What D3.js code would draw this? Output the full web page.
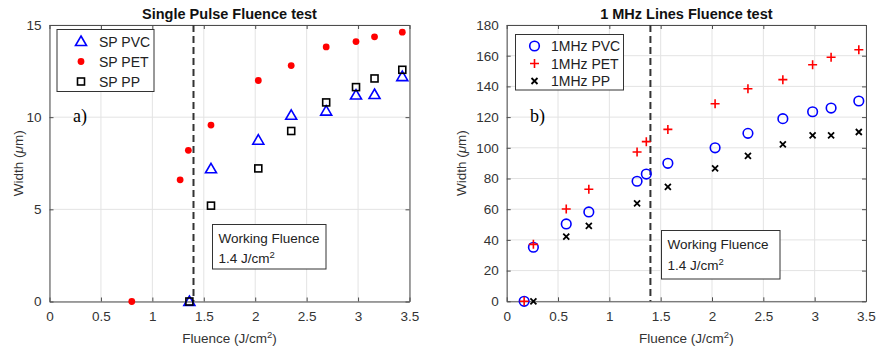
<!DOCTYPE html>
<html>
<head>
<meta charset="utf-8">
<script src="https://cdn.jsdelivr.net/npm/d3@7"></script>
<style>
  body { margin: 0; background: #fff; }
  svg text { font-family: "Liberation Sans", Arial, sans-serif; }
</style>
</head>
<body>
<div id="chart"></div>
<script>
// Single pulse (a)
const spFluence = [1.36, 1.57, 2.03, 2.35, 2.69, 2.98, 3.16, 3.43];
const spPVC = [0, 7.2, 8.75, 10.1, 10.33, 11.2, 11.23, 12.2];
const spPP = [0, 5.2, 7.22, 9.25, 10.8, 11.63, 12.1, 12.57];
const spPETFluence = [0.8, 1.27, 1.35, 1.57, 2.03, 2.35, 2.69, 2.98, 3.16, 3.43];
const spPET = [0, 6.6, 8.2, 9.57, 11.99, 12.8, 13.81, 14.1, 14.36, 14.61];

// 1 MHz lines (b)
const mhzFluence = [0.17, 0.26, 0.58, 0.8, 1.27, 1.36, 1.57, 2.03, 2.35, 2.69, 2.98, 3.16, 3.43];
const mhzPVC = [0, 35.2, 50.4, 58.2, 78.2, 82.9, 89.9, 100, 109.4, 119, 123.5, 125.9, 130.5];
const mhzPET = [0, 37.1, 60.1, 73, 97.3, 104, 112, 128.7, 138.5, 144.4, 154.1, 159, 163.9];
const mhzPPFluence = [0.26, 0.58, 0.8, 1.27, 1.57, 2.03, 2.35, 2.69, 2.98, 3.16, 3.43];
const mhzPP = [0, 42.1, 49.1, 63.8, 74.5, 86.6, 94.7, 102.3, 108.1, 108.1, 110.3];

const xTicks = [0, 0.5, 1, 1.5, 2, 2.5, 3, 3.5];
const spYTicks = [0, 5, 10, 15];
const mhzYTicks = [0, 20, 40, 60, 80, 100, 120, 140, 160, 180];
const workingFluence = 1.4;

const width = 876;
const height = 351;
const axisColor = '#4d4d4d';
const gridColor = '#e3e3e3';
const labelSize = '13.5px';

const svg = d3
  .select('#chart')
  .append('svg')
  .attr('width', width)
  .attr('height', height)
  .attr('xmlns', 'http://www.w3.org/2000/svg');

/* Markers
-----------------------------------------------------------------------------*/
function drawMarker(g, type, x, y) {
  if (type === 'triangle') {
    g.append('path')
      .attr('d', `M${x},${y - 5.5}L${x + 5.5},${y + 4}L${x - 5.5},${y + 4}Z`)
      .attr('fill', 'none')
      .attr('stroke', '#0000ff')
      .attr('stroke-width', 1.6);
  } else if (type === 'dot') {
    g.append('circle').attr('cx', x).attr('cy', y).attr('r', 3.4).attr('fill', '#ff0000');
  } else if (type === 'square') {
    g.append('rect')
      .attr('x', x - 3.5).attr('y', y - 3.5)
      .attr('width', 7).attr('height', 7)
      .attr('fill', 'none')
      .attr('stroke', '#000')
      .attr('stroke-width', 1.6);
  } else if (type === 'circle') {
    g.append('circle')
      .attr('cx', x).attr('cy', y).attr('r', 4.8)
      .attr('fill', 'none')
      .attr('stroke', '#0000ff')
      .attr('stroke-width', 1.6);
  } else if (type === 'plus') {
    g.append('path')
      .attr('d', `M${x - 4.5},${y}H${x + 4.5}M${x},${y - 4.5}V${y + 4.5}`)
      .attr('stroke', '#ff0000')
      .attr('stroke-width', 1.6);
  } else if (type === 'cross') {
    g.append('path')
      .attr('d', `M${x - 3},${y - 3}L${x + 3},${y + 3}M${x - 3},${y + 3}L${x + 3},${y - 3}`)
      .attr('stroke', '#000')
      .attr('stroke-width', 1.8);
  }
}

/* Panel
-----------------------------------------------------------------------------*/
function drawPanel(opts) {
  const x = d3.scaleLinear().domain([0, 3.5]).range([opts.left, opts.right]);
  const y = d3.scaleLinear().domain([0, opts.yMax]).range([opts.bottom, opts.top]);
  const g = svg.append('g');

  // grid
  g.append('g')
    .selectAll('line')
    .data(xTicks)
    .join('line')
    .attr('x1', (d) => x(d)).attr('x2', (d) => x(d))
    .attr('y1', opts.top).attr('y2', opts.bottom)
    .attr('stroke', gridColor);
  g.append('g')
    .selectAll('line')
    .data(opts.yTicks)
    .join('line')
    .attr('x1', opts.left).attr('x2', opts.right)
    .attr('y1', (d) => y(d)).attr('y2', (d) => y(d))
    .attr('stroke', gridColor);

  // axes (ticks inward, box on)
  const fmt = (d) => String(d);
  const bottomAxis = d3.axisBottom(x).tickValues(xTicks).tickSizeInner(-4).tickSizeOuter(0).tickPadding(10).tickFormat(fmt);
  const topAxis = d3.axisTop(x).tickValues(xTicks).tickSizeInner(-4).tickSizeOuter(0).tickFormat('');
  const leftAxis = d3.axisLeft(y).tickValues(opts.yTicks).tickSizeInner(-4).tickSizeOuter(0).tickPadding(8).tickFormat(fmt);
  const rightAxis = d3.axisRight(y).tickValues(opts.yTicks).tickSizeInner(-4).tickSizeOuter(0).tickFormat('');

  [
    [bottomAxis, `translate(0,${opts.bottom})`],
    [topAxis, `translate(0,${opts.top})`],
    [leftAxis, `translate(${opts.left},0)`],
    [rightAxis, `translate(${opts.right},0)`],
  ].forEach(([axis, t]) => {
    const a = g.append('g').attr('transform', t).call(axis);
    a.selectAll('path, line').attr('stroke', axisColor);
    a.selectAll('text')
      .attr('fill', '#333')
      .style('font-size', labelSize)
      .style('font-family', '"Liberation Sans", Arial, sans-serif');
  });

  // working fluence line
  g.append('line')
    .attr('x1', x(workingFluence)).attr('x2', x(workingFluence))
    .attr('y1', opts.top).attr('y2', opts.bottom)
    .attr('stroke', '#333')
    .attr('stroke-width', 2)
    .attr('stroke-dasharray', '7,4');

  // series
  opts.series.forEach((s) => {
    const sg = g.append('g');
    s.values.forEach((v, i) => drawMarker(sg, s.marker, x(s.fluence[i]), y(v)));
  });

  // title
  g.append('text')
    .attr('x', (opts.left + opts.right) / 2)
    .attr('y', 19)
    .attr('text-anchor', 'middle')
    .style('font-size', '14.5px')
    .style('font-weight', 'bold')
    .attr('fill', '#111')
    .text(opts.title);

  // x label
  const xl = g.append('text')
    .attr('x', (opts.left + opts.right) / 2)
    .attr('y', 343)
    .attr('text-anchor', 'middle')
    .style('font-size', labelSize)
    .attr('fill', '#333');
  xl.append('tspan').text('Fluence (J/cm');
  xl.append('tspan').attr('dy', -5).style('font-size', '9.5px').text('2');
  xl.append('tspan').attr('dy', 5).text(')');

  // y label
  const yl = g.append('text')
    .attr('transform', `translate(${opts.yLabelX},${(opts.top + opts.bottom) / 2}) rotate(-90)`)
    .attr('text-anchor', 'middle')
    .style('font-size', labelSize)
    .attr('fill', '#333');
  yl.append('tspan').text('Width (');
  yl.append('tspan').style('font-style', 'italic').text('\u03bc');
  yl.append('tspan').text('m)');

  // legend
  const L = opts.legend;
  const lg = g.append('g');
  lg.append('rect')
    .attr('x', L.x).attr('y', L.y)
    .attr('width', L.w).attr('height', L.h)
    .attr('fill', '#fff')
    .attr('stroke', '#333');
  opts.series.forEach((s, i) => {
    const cy = L.y + L.first + i * L.step;
    drawMarker(lg, s.marker, L.x + L.markerDx, cy);
    lg.append('text')
      .attr('x', L.x + L.textDx)
      .attr('y', cy + 5)
      .style('font-size', L.fontSize)
      .attr('fill', '#222')
      .text(s.name);
  });

  // panel letter
  g.append('text')
    .attr('x', opts.letter.x)
    .attr('y', opts.letter.y)
    .style('font-family', '"Liberation Serif", "Times New Roman", serif')
    .style('font-size', '18px')
    .attr('fill', '#000')
    .text(opts.letter.text);

  // working fluence note
  const nb = opts.note;
  g.append('rect')
    .attr('x', nb.x).attr('y', nb.y)
    .attr('width', nb.w).attr('height', nb.h)
    .attr('fill', '#fff')
    .attr('stroke', '#333');
  g.append('text')
    .attr('x', nb.x + 6).attr('y', nb.y + 18)
    .style('font-size', labelSize).attr('fill', '#222')
    .text('Working Fluence');
  const n2 = g.append('text')
    .attr('x', nb.x + 6).attr('y', nb.y + nb.line2)
    .style('font-size', labelSize).attr('fill', '#222');
  n2.append('tspan').text('1.4 J/cm');
  n2.append('tspan').attr('dy', -5).style('font-size', '9.5px').text('2');
}

drawPanel({
  left: 49.5, right: 409.5, top: 25, bottom: 301.5,
  yMax: 15, yTicks: spYTicks, yLabelX: 23,
  title: 'Single Pulse Fluence test',
  series: [
    { name: 'SP PVC', marker: 'triangle', fluence: spFluence, values: spPVC },
    { name: 'SP PET', marker: 'dot', fluence: spPETFluence, values: spPET },
    { name: 'SP PP', marker: 'square', fluence: spFluence, values: spPP },
  ],
  legend: { x: 57, y: 29.5, w: 97, h: 62, first: 12, step: 20, markerDx: 24, textDx: 42, fontSize: '14px' },
  letter: { x: 73, y: 122, text: 'a)' },
  note: { x: 212.5, y: 224.5, w: 113.5, h: 44.5, line2: 38 },
});

drawPanel({
  left: 506.7, right: 866, top: 25, bottom: 301.3,
  yMax: 180, yTicks: mhzYTicks, yLabelX: 466,
  title: '1 MHz Lines Fluence test',
  series: [
    { name: '1MHz PVC', marker: 'circle', fluence: mhzFluence, values: mhzPVC },
    { name: '1MHz PET', marker: 'plus', fluence: mhzFluence, values: mhzPET },
    { name: '1MHz PP', marker: 'cross', fluence: mhzPPFluence, values: mhzPP },
  ],
  legend: { x: 515.5, y: 34.5, w: 108, h: 55.5, first: 11.5, step: 17.5, markerDx: 19, textDx: 35.5, fontSize: '14px' },
  letter: { x: 530, y: 122, text: 'b)' },
  note: { x: 661.5, y: 230.5, w: 118.5, h: 48.5, line2: 39 },
});
</script>
</body>
</html>
